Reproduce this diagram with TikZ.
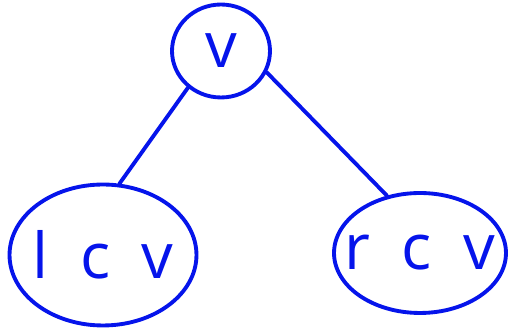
\documentclass[tikz,border=0pt]{standalone}
\usepackage{fontspec}
\setmainfont{Open Sans}
\usetikzlibrary{shapes.geometric}
\definecolor{pen}{RGB}{5,20,235}
\begin{document}
\begin{tikzpicture}[x=0.02cm,y=-0.02cm,line width=2.2pt,
  vert/.style={draw=pen,ellipse,inner sep=-12pt,text=pen,font=\fontsize{36}{40}\selectfont},
  edge/.style={draw=pen,line cap=round}]

\useasboundingbox (0,0) rectangle (511,333);

\node[vert,minimum width=1.96cm,minimum height=1.86cm] (v) at (221,51) {v};
\node[vert,minimum width=3.74cm,minimum height=2.82cm] (lcv) at (103,255) {l\hspace{0.5em}c\hspace{0.5em}v};
\node[vert,minimum width=3.44cm,minimum height=2.40cm] (rcv) at (420,253) {r\hspace{0.5em}c\hspace{0.5em}v};

\draw[edge] (v.228) -- (lcv.77);
\draw[edge] (v.335) -- (rcv.120);

\end{tikzpicture}
\end{document}
